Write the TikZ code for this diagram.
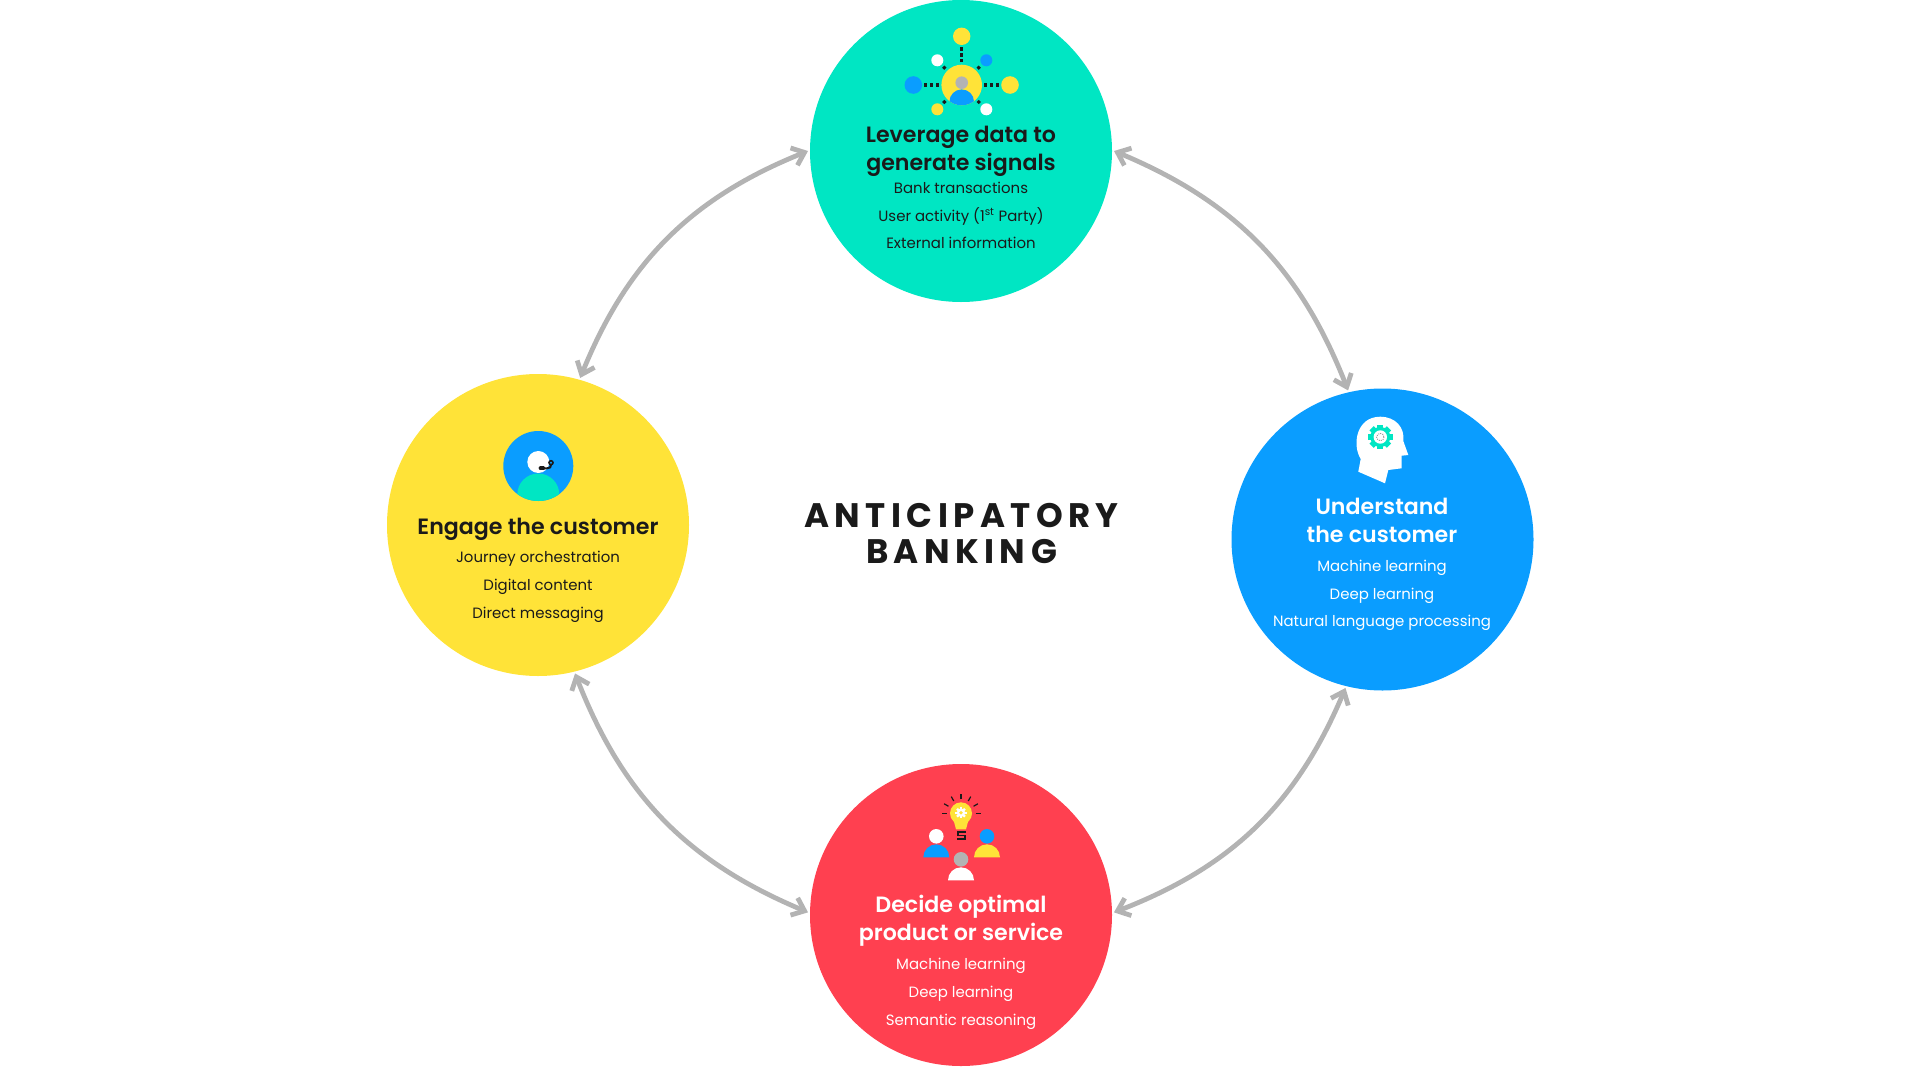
\documentclass[tikz,border=0pt]{standalone}
\usepackage{fontspec}
\setmainfont[BoldFont={Poppins SemiBold}]{Poppins}
\newfontfamily\bannerfont[LetterSpace=16]{Poppins Bold}
\usetikzlibrary{arrows.meta}
\definecolor{tealc}{HTML}{00E6C3}
\definecolor{bluec}{HTML}{0A9DFF}
\definecolor{yellowc}{HTML}{FFE338}
\definecolor{redc}{HTML}{FF4050}
\definecolor{inkc}{HTML}{1A1A1A}
\definecolor{greyc}{HTML}{B3B3B3}
\tikzset{
  stage/.style={circle,minimum size=226.5pt,inner sep=0pt,outer sep=1.5pt},
  heading/.style={align=center,inner sep=0pt,font=\fontsize{16.6}{21}\selectfont\bfseries},
  detail/.style={align=center,inner sep=0pt,font=\fontsize{11.2}{20.8}\selectfont},
  loopline/.style={draw=greyc,line width=3.6pt,{Straight Barb[length=8.5pt,width=14pt]}-{Straight Barb[length=8.5pt,width=14pt]}},
  dotline/.style={fill=inkc}
}
\newcommand{\personicon}[4]{% head colour, body colour, x, y of the head
  \fill[#1] (#3,#4) circle (7.3);
  \fill[#2] (#3-13,#4+21) arc (180:360:13) -- cycle;
}
\begin{document}
\begin{tikzpicture}[x=0.75pt,y=-0.75pt]
\useasboundingbox (0,0) rectangle (1920,1067);
% Circles
\node[stage,fill=tealc] (lev) at (961,151) {};
\node[stage,fill=bluec] (und) at (1382.5,539.5) {};
\node[stage,fill=yellowc] (eng) at (538,525) {};
\node[stage,fill=redc] (dec) at (961,915) {};
% Connectors
\draw[loopline] (lev.0) to[bend left=23] (und.103);
\draw[loopline] (und.256) to[bend left=23] (dec.1);
\draw[loopline] (dec.179) to[bend left=23] (eng.284);
\draw[loopline] (eng.74) to[bend left=23] (lev.180);
% Centre title
\node[inner sep=0pt,font=\fontsize{25.5}{27.3}\bannerfont\selectfont,text=inkc,align=center] (title) at (961.5,533.5) {ANTICIPATORY\\BANKING};
% Top texts
\node[heading,text=inkc] (levhead) at (961,151) {Leverage data to\\generate signals};
\node[detail,text=inkc] (levtext) at (961,215.5) {Bank transactions\\User activity (1\textsuperscript{st} Party)\\External information};
% Right texts
\node[heading,text=white] (undhead) at (1382,520) {Understand\\the customer};
\node[detail,text=white] (undtext) at (1382,595.5) {Machine learning\\Deep learning\\Natural language processing};
% Left texts
\node[heading,text=inkc] (enghead) at (538,529.5) {Engage the customer};
\node[detail,text=inkc] (engtext) at (538,587) {Journey orchestration\\Digital content\\Direct messaging};
% Bottom texts
\node[heading,text=white] (dechead) at (961,921) {Decide optimal\\product or service};
\node[detail,text=white] (dectext) at (961,994) {Machine learning\\Deep learning\\Semantic reasoning};
% Data icon
\fill[yellowc] (961.7,85) circle (20.3);
\fill[greyc] (961.7,82.7) circle (6.3);
\begin{scope}
\clip (961.7,85) circle (20.3);
\fill[bluec] (961.7,101.7) circle (12.3);
\end{scope}
\fill[yellowc] (961.7,36.3) circle (8.7);
\fill[bluec] (913.3,85) circle (8.8);
\fill[yellowc] (1010,85) circle (8.8);
\fill[white] (937.3,60.3) circle (6);
\fill[bluec] (986.3,60.3) circle (6);
\fill[yellowc] (937.3,109.3) circle (6);
\fill[white] (986.3,109.3) circle (6);
\foreach \d in {49,55,60.7}
  \fill[dotline] (961.7-1.7,\d-1.7) rectangle ++(3.4,3.4);
\foreach \d in {925.7,931.7,937.7,985.7,991.7,997.7}
  \fill[dotline] (\d-1.7,85-1.7) rectangle ++(3.4,3.4);
\foreach \p/\q in {944.3/67.7,978.7/67.7,944.3/102,978.7/102}
  \fill[dotline] (\p,\q-2.2) -- (\p+2.2,\q) -- (\p,\q+2.2) -- (\p-2.2,\q) -- cycle;
% Head icon
\fill[white] (1358.3,471.7) -- (1360.7,459) .. controls (1352,445) and (1356,417) .. (1380,416.7)
  .. controls (1396,416.7) and (1405,428) .. (1403.3,441) -- (1408.3,455) -- (1401.7,455.7)
  -- (1401.7,468.3) -- (1388.3,470) -- (1385,483.3) -- cycle;
\foreach \a in {0,45,...,315}
  \fill[tealc,shift={(1380.3,437)},rotate=\a] (-3,-12.3) rectangle (3,0);
\fill[tealc] (1380.3,437) circle (10);
\fill[white] (1380.3,437) circle (6.7);
\draw[inkc!60,line width=0.6pt,densely dotted] (1380.3,437) circle (3.7);
% Agent icon
\fill[bluec] (538.3,466) circle (35);
\fill[white] (538.3,462) circle (11);
\begin{scope}
\clip (538.3,466) circle (35);
\fill[tealc] (538.3,494.5) circle (21);
\end{scope}
\draw[inkc,line width=1.5pt] (541,468.3) -- (547,468.3) .. controls (550,468.3) and (551,467) .. (551,465);
\draw[inkc,line width=1.2pt] (551,462.7) circle (2);
\draw[inkc,line width=2.8pt,line cap=round] (540.5,468.3) -- (543.3,468.3);
% Idea icon
\fill[yellowc] (961,813.3) circle (11);
\fill[yellowc] (953,818) -- (969,818) -- (966,829.3) -- (956,829.3) -- cycle;
\foreach \a in {0,45,...,315}
  \fill[white,shift={(961,812.7)},rotate=\a] (-1.2,-5.6) rectangle (1.2,0);
\fill[white] (961,812.7) circle (4.2);
\fill[yellowc] (961,812.7) circle (1.9);
\foreach \a in {180,210,...,360}
  \draw[inkc,line width=0.9pt] (961,813.5) ++(\a:14.5) -- ++(\a:5);
\draw[inkc,line width=0.9pt] (965.7,832) -- (958,832) -- (958,835.5) -- (965,835.5) -- (965,839) -- (956.7,839);
\personicon{white}{bluec}{936.3}{836.3}
\personicon{bluec}{yellowc}{987}{836.3}
\personicon{greyc}{white}{961}{859.3}
\end{tikzpicture}
\end{document}
